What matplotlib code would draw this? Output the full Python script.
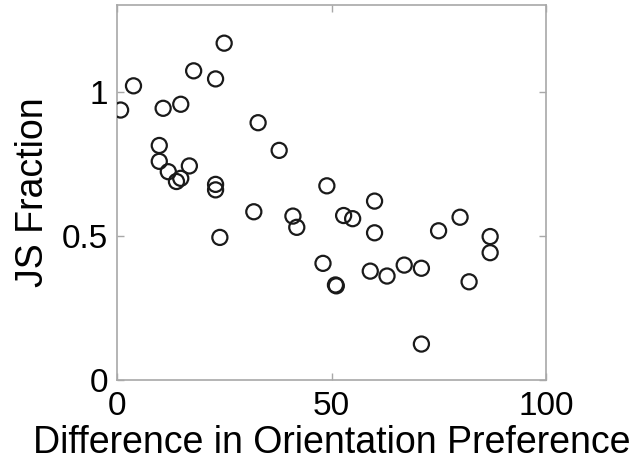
import numpy as np
import matplotlib.pyplot as plt

plt.rcParams['font.family'] = ['Liberation Sans', 'DejaVu Sans']

# orientation preference difference (deg) and JS fraction
diff_pref = [0.9, 3.9, 10.8, 14.9, 17.9, 23.0, 25.0, 32.9, 37.8,
             9.9, 9.9, 12.0, 16.9, 13.9, 14.9, 23.0, 23.0, 31.9,
             41.0, 41.9, 24.0, 48.9, 52.8, 54.9, 60.0, 60.0, 48.0,
             50.9, 51.1, 59.0, 62.9, 66.9, 70.9, 74.9, 79.9, 86.9,
             86.9, 82.0, 70.9]
js_fraction = [0.936, 1.020, 0.942, 0.956, 1.072, 1.044, 1.168, 0.892, 0.796,
               0.813, 0.758, 0.722, 0.742, 0.688, 0.699, 0.678, 0.659, 0.583,
               0.568, 0.529, 0.494, 0.673, 0.570, 0.559, 0.620, 0.510, 0.404,
               0.329, 0.326, 0.377, 0.360, 0.398, 0.387, 0.517, 0.564, 0.497,
               0.441, 0.340, 0.124]

x_ticks = [0, 50, 100]
y_ticks = [0, 0.5, 1]

fig = plt.figure(figsize=(6.31, 4.66), dpi=100)
ax = fig.add_axes([0.185, 0.185, 0.681, 0.804])

ax.scatter(diff_pref, js_fraction, s=118, facecolors='none',
           edgecolors='#1a1a1a', linewidths=1.6, zorder=3)

ax.set_xlim(0, 100)
ax.set_ylim(0, 1.3)
ax.set_xticks(x_ticks)
ax.set_xticklabels(['0', '50', '100'])
ax.set_yticks(y_ticks)
ax.set_yticklabels(['0', '0.5', '1'])

for sp in ax.spines.values():
    sp.set_color('#a8a8a8')
    sp.set_linewidth(1.2)
ax.tick_params(direction='in', length=5, width=1, color='#a8a8a8',
               labelsize=24, top=True, right=True)
ax.tick_params(axis='x', pad=8)
ax.tick_params(axis='y', pad=6)

ax.set_xlabel('Difference in Orientation Preference', fontsize=27, labelpad=2)
ax.set_ylabel('JS Fraction', fontsize=27, labelpad=8)

fig.savefig('out.png', dpi=100)
